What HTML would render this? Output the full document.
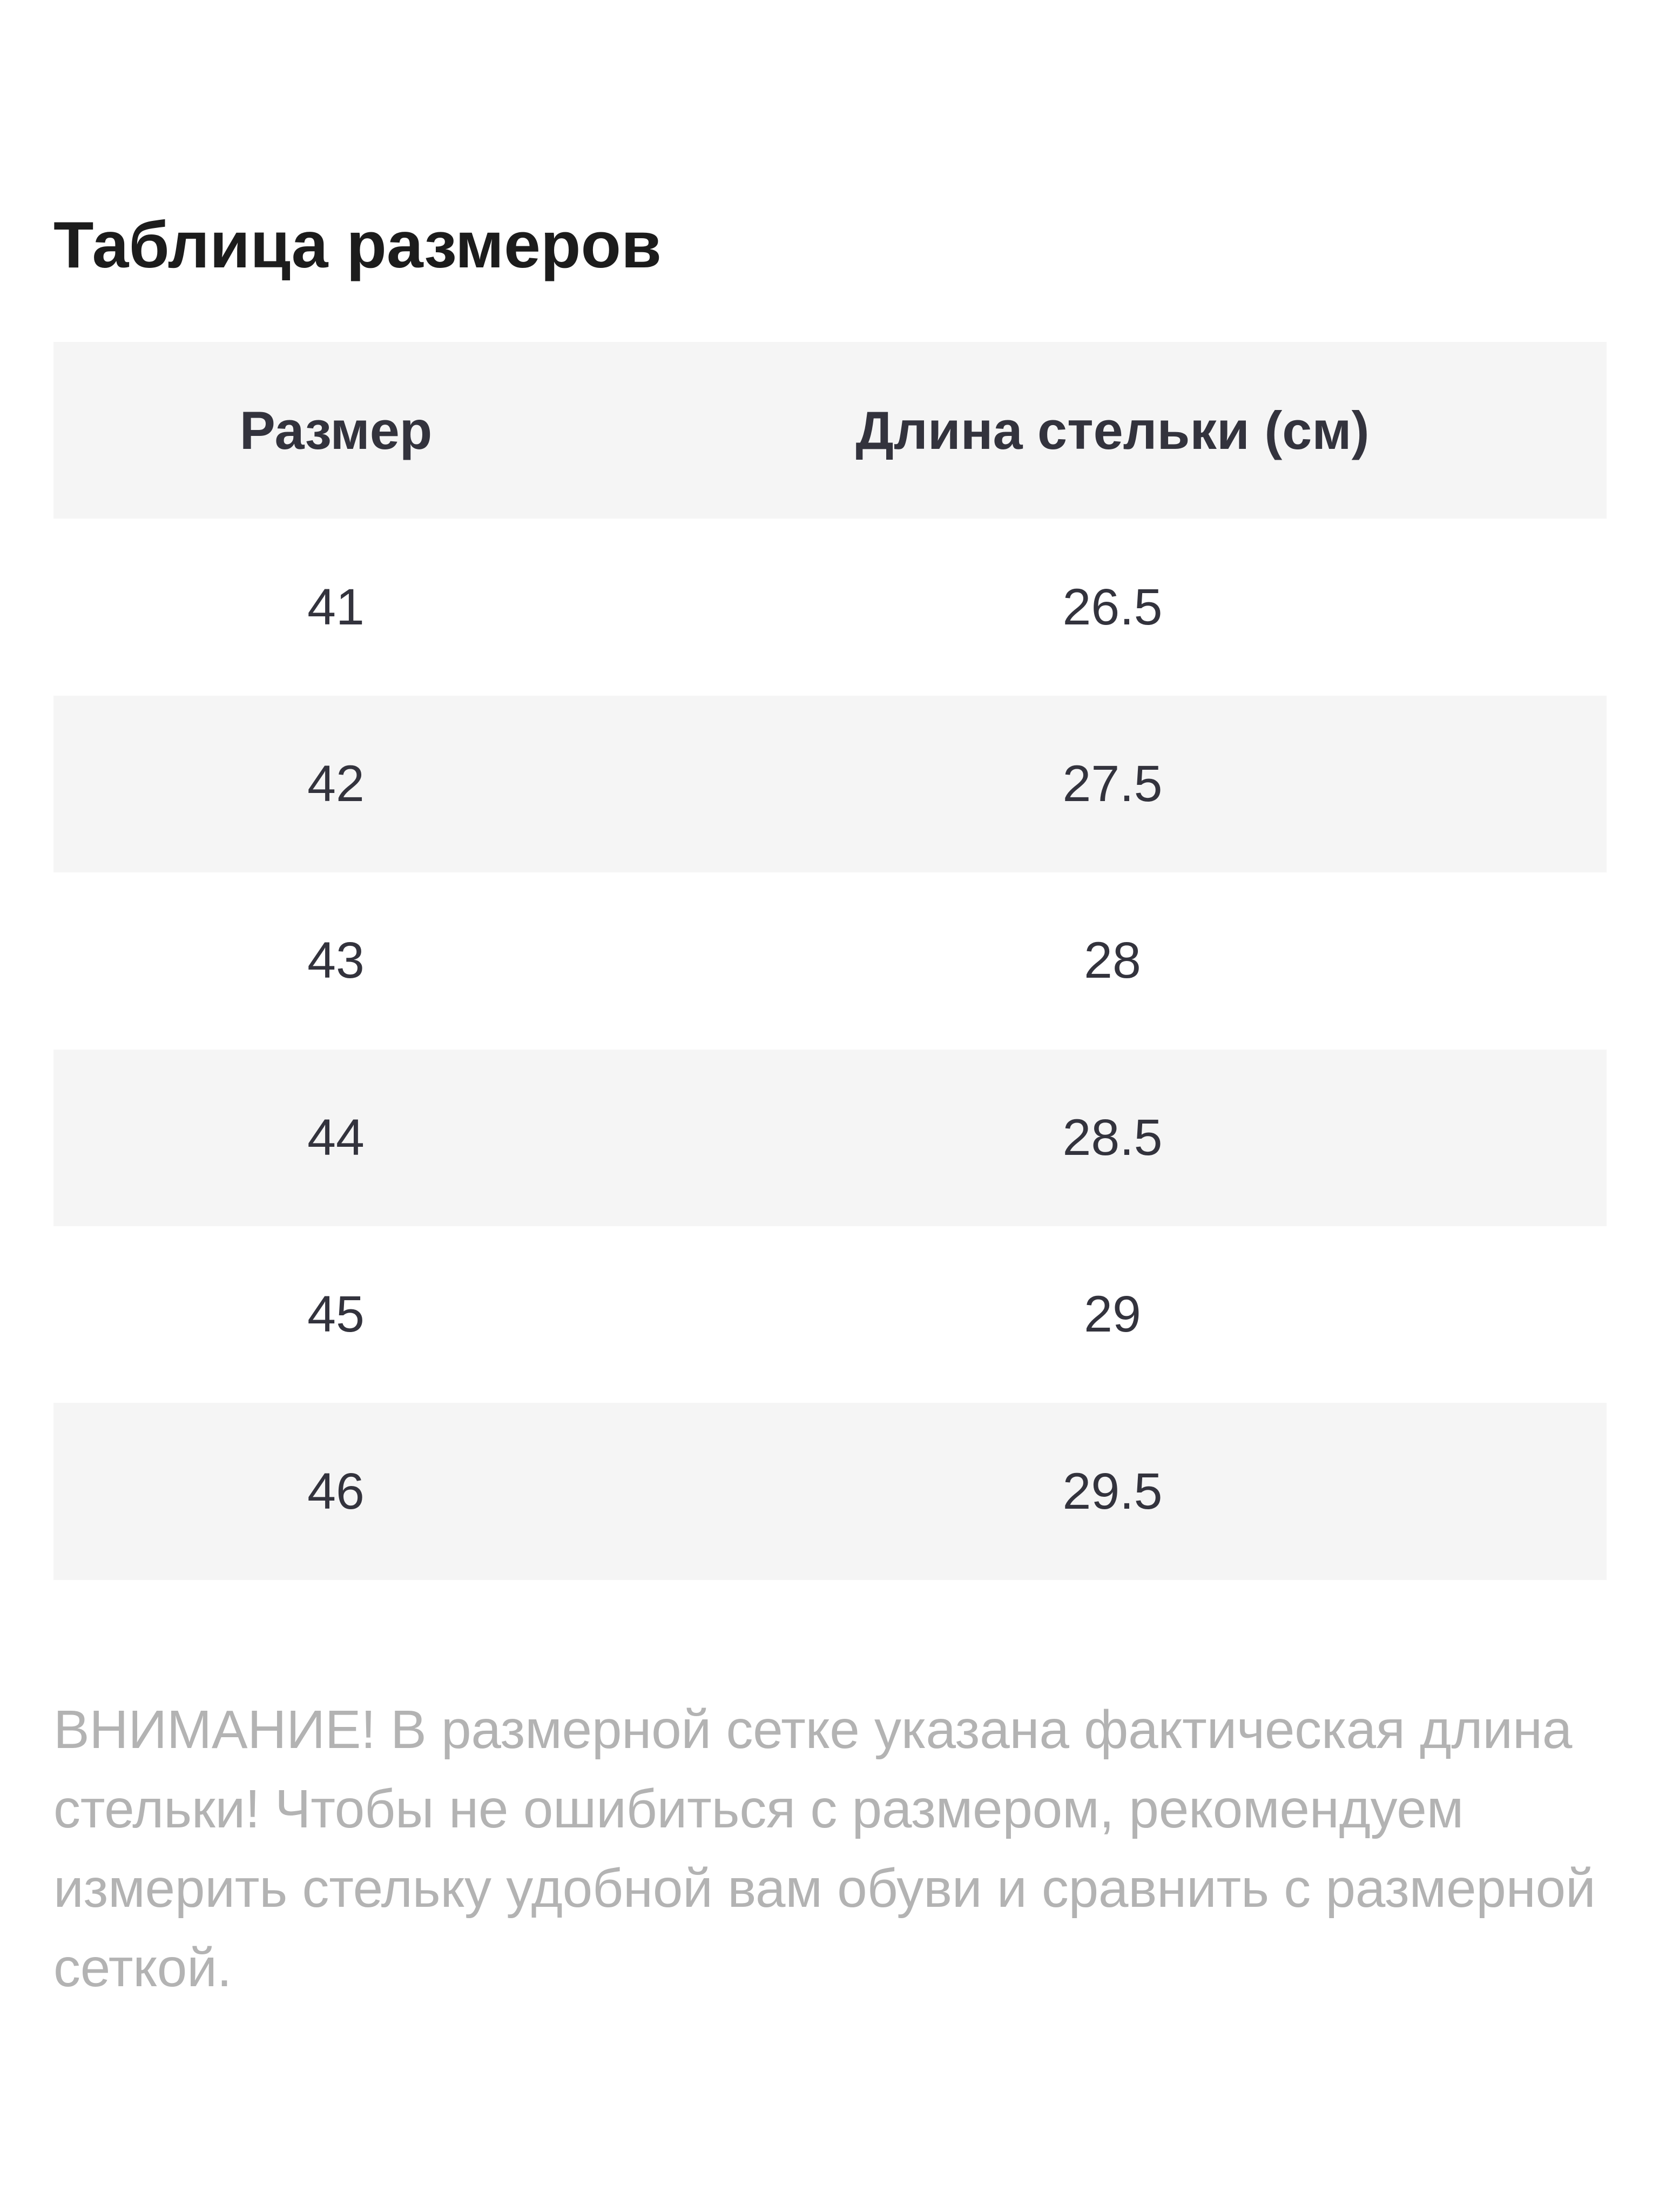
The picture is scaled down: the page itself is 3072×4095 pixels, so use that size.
<!DOCTYPE html>
<html><head><meta charset="utf-8"><style>
html,body{margin:0;padding:0;background:#fff;width:3072px;height:4095px;overflow:hidden}
body{font-family:"Liberation Sans",sans-serif;position:relative}
.title{position:absolute;left:99px;top:392px;font-size:122px;font-weight:bold;color:#1c1c1c;white-space:nowrap;line-height:1}
table{position:absolute;left:99px;top:633px;width:2876px;border-collapse:collapse}
td{height:327.4px;padding:0;text-align:center;font-size:95px;color:#33333d;vertical-align:middle}
td:first-child{width:1046px}
tr.g td{background:#f5f5f5}
tr.h td{font-weight:bold;color:#33333d;font-size:99px}
.note{position:absolute;left:99px;top:3129px;width:2950px;font-size:100px;line-height:147px;color:#b3b3b3;letter-spacing:-0.3px}
</style></head><body>
<div class="title">Таблица размеров</div>
<table>
<tr class="g h"><td>Размер</td><td>Длина стельки (см)</td></tr>
<tr><td>41</td><td>26.5</td></tr>
<tr class="g"><td>42</td><td>27.5</td></tr>
<tr><td>43</td><td>28</td></tr>
<tr class="g"><td>44</td><td>28.5</td></tr>
<tr><td>45</td><td>29</td></tr>
<tr class="g"><td>46</td><td>29.5</td></tr>
</table>
<div class="note">ВНИМАНИЕ! В размерной сетке указана фактическая длина<br>стельки! Чтобы не ошибиться с размером, рекомендуем<br>измерить стельку удобной вам обуви и сравнить с размерной<br>сеткой.</div>
</body></html>
